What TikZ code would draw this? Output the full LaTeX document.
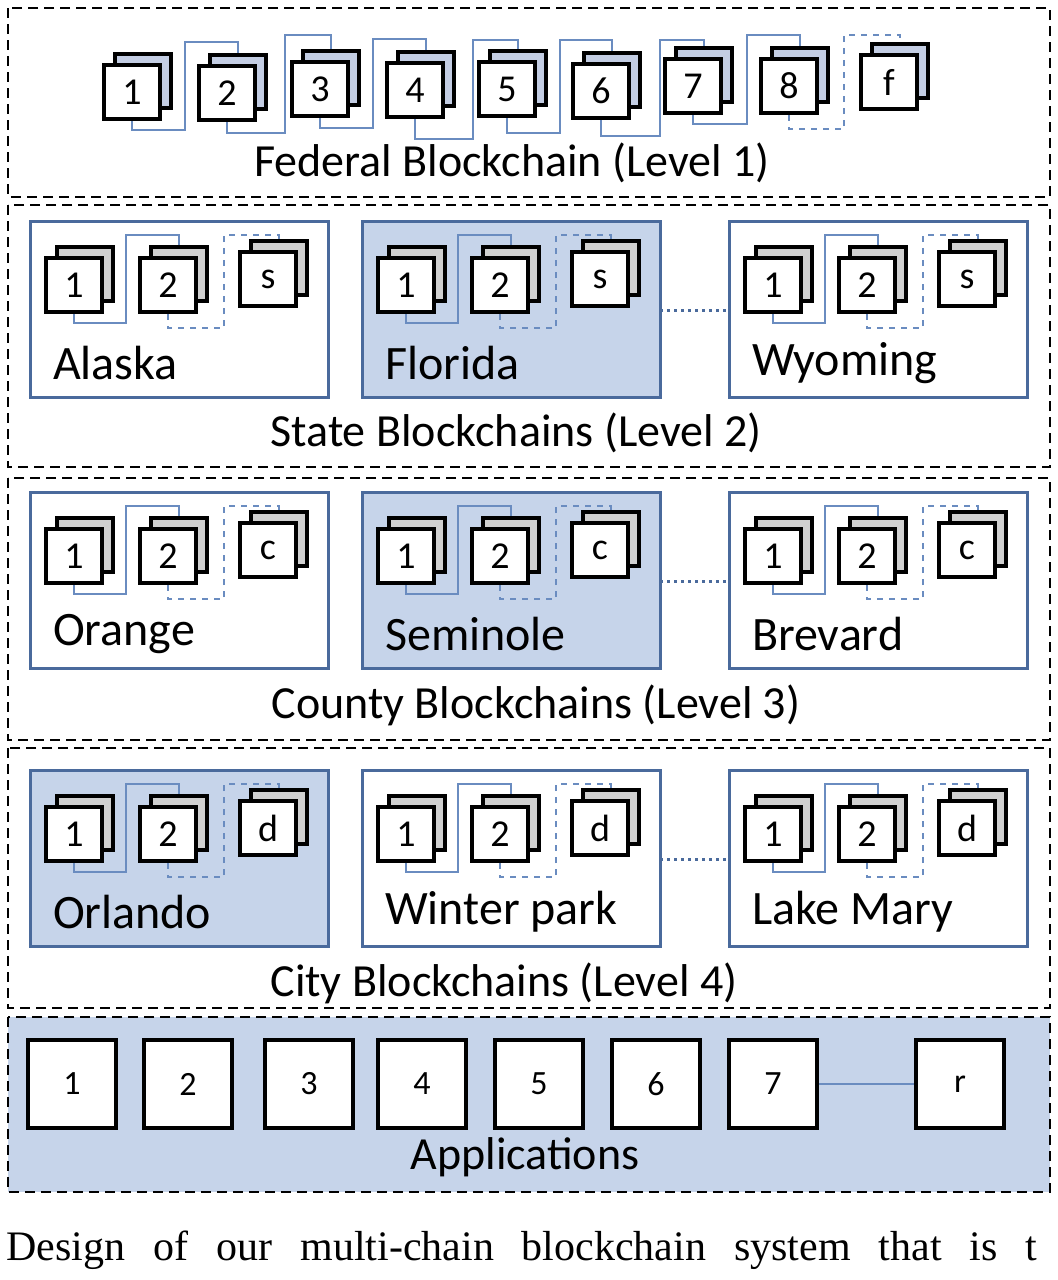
\documentclass[tikz,border=0pt]{standalone}
\usepackage{fontspec}
\setmainfont{Carlito}
\newfontfamily\capfont{Liberation Serif}
\usetikzlibrary{positioning}
\definecolor{panelblue}{HTML}{C6D4EA}
\definecolor{backblue}{HTML}{C3CDE3}
\definecolor{backgray}{HTML}{D0D0D0}
\definecolor{edgeblue}{HTML}{4A6A9C}
\definecolor{linkblue}{HTML}{6A8CC0}
\tikzset{
    front/.style={
        draw,
        line width=2pt,
        fill=white,
        minimum width=28pt,
        minimum height=27pt,
        inner sep=0pt,
        font=\fontsize{19}{19}\selectfont
    },
    back/.style={
        front,
        fill=backgray
    },
    link/.style={
        linkblue,
        line width=0.8pt
    },
    weak/.style={
        dashed
    },
    level/.style={
        draw,
        dash pattern=on 5pt off 3pt,
        line width=1.3pt
    },
    panel/.style={
        draw=edgeblue,
        line width=1.5pt
    },
    title/.style={
        font=\fontsize{23}{23}\selectfont
    },
    place/.style={
        anchor=west,
        font=\fontsize{24}{24}\selectfont
    },
    app/.style={
        draw,
        line width=2pt,
        fill=white,
        minimum size=44pt,
        inner sep=0pt,
        font=\fontsize{17}{17}\selectfont
    }
}
% a stacked block: back card, then front card
\newcommand{\stackblock}[5]{%
  \node[back,fill=#5] (#1back) at (#2+11,#3-11) {};
  \node[front] (#1) at (#2,#3) {#4};
}
% an elbow link from one block to the next
\newcommand{\chainlink}[6][]{%
  \draw[link,#1] (#2.south) |- (#4,#5) -- (#4,#6) -| (#3back.north);
}
% a region panel with three blocks
\newcommand{\regionpanel}[7]{%
  \draw[panel,fill=#4] (#2,#3) rectangle ++(298,176);
  \stackblock{#1one}{#2+44}{#3+64}{1}{backgray}
  \stackblock{#1two}{#2+138}{#3+64}{2}{backgray}
  \stackblock{#1end}{#2+238}{#3+58}{#6}{backgray}
  \chainlink{#1one}{#1two}{#2+96}{#3+102}{#3+14}
  \chainlink[weak]{#1two}{#1end}{#2+194}{#3+107}{#3+14}
  \node[place] (#1name) at (#2+16,#3+142) {#5};
  \coordinate (#1w) at (#2,#3+#7);
  \coordinate (#1e) at (#2+298,#3+#7);
}

\begin{document}
\begin{tikzpicture}[x=0.5pt,y=-0.5pt]
  \useasboundingbox (0,0) rectangle (1058,1280);
  \clip (0,0) rectangle (1058,1280);

  % Level 1
  \draw[level] (8,8) rectangle (1050,197);
  \stackblock{f1}{132}{92}{1}{backblue}
  \stackblock{f2}{227}{93}{2}{backblue}
  \stackblock{f3}{320}{89}{3}{backblue}
  \stackblock{f4}{415}{90}{4}{backblue}
  \stackblock{f5}{507}{89}{5}{backblue}
  \stackblock{f6}{601}{91}{6}{backblue}
  \stackblock{f7}{693}{86}{7}{backblue}
  \stackblock{f8}{789}{86}{8}{backblue}
  \stackblock{f9}{889}{82}{f}{backblue}
  \chainlink{f1}{f2}{185}{130}{42}
  \chainlink{f2}{f3}{285}{133}{35}
  \chainlink{f3}{f4}{373}{128}{39}
  \chainlink{f4}{f5}{473}{139}{40}
  \chainlink{f5}{f6}{560}{133}{40}
  \chainlink{f6}{f7}{660}{136}{40}
  \chainlink{f7}{f8}{747}{124}{35}
  \chainlink[weak]{f8}{f9}{844}{129}{35}
  \node[title] (fedtitle) at (512,163) {Federal Blockchain (Level 1)};

  % Level 2
  \draw[level] (8,205) rectangle (1050,467);
  \regionpanel{sa}{30}{221}{white}{Alaska}{s}{89}
  \regionpanel{sf}{362}{221}{panelblue}{Florida}{s}{89}
  \regionpanel{sw}{729}{221}{white}{Wyoming}{s}{89}
  \draw[edgeblue,line width=1.5pt,dotted] (sfe) -- (sww);
  \node[title] (statetitle) at (516,433) {State Blockchains (Level 2)};

  % Level 3
  \draw[level] (8,478) rectangle (1050,740);
  \regionpanel{co}{30}{492}{white}{Orange}{c}{89}
  \regionpanel{cs}{362}{492}{panelblue}{Seminole}{c}{89}
  \regionpanel{cb}{729}{492}{white}{Brevard}{c}{89}
  \draw[edgeblue,line width=1.5pt,dotted] (cse) -- (cbw);
  \node[title] (countytitle) at (536,705) {County Blockchains (Level 3)};

  % Level 4
  \draw[level] (8,748) rectangle (1050,1008);
  \regionpanel{yo}{30}{770}{panelblue}{Orlando}{d}{89}
  \regionpanel{yw}{362}{770}{white}{Winter park}{d}{89}
  \regionpanel{yl}{729}{770}{white}{Lake Mary}{d}{89}
  \draw[edgeblue,line width=1.5pt,dotted] (ywe) -- (ylw);
  \node[title] (citytitle) at (504,983) {City Blockchains (Level 4)};

  % Applications
  \draw[level,fill=panelblue] (8,1017) rectangle (1050,1192);
  \foreach \x/\t in {72/1,188/2,309/3,422/4,539/5,656/6,773/7,960/r}
    \node[app] (app\t) at (\x,1084) {\t};
  \draw[link] (app7) -- (appr);
  \node[title] (apptitle) at (525,1157) {Applications};

  % caption
  \node[anchor=west,inner sep=0pt,font=\capfont\fontsize{21}{21}\selectfont] (caption) at (6,1250)
    {Design\hspace{14pt}of\hspace{14pt}our\hspace{14pt}multi-chain\hspace{14pt}blockchain\hspace{14pt}system\hspace{14pt}that\hspace{14pt}is\hspace{14pt}t};
\end{tikzpicture}
\end{document}
